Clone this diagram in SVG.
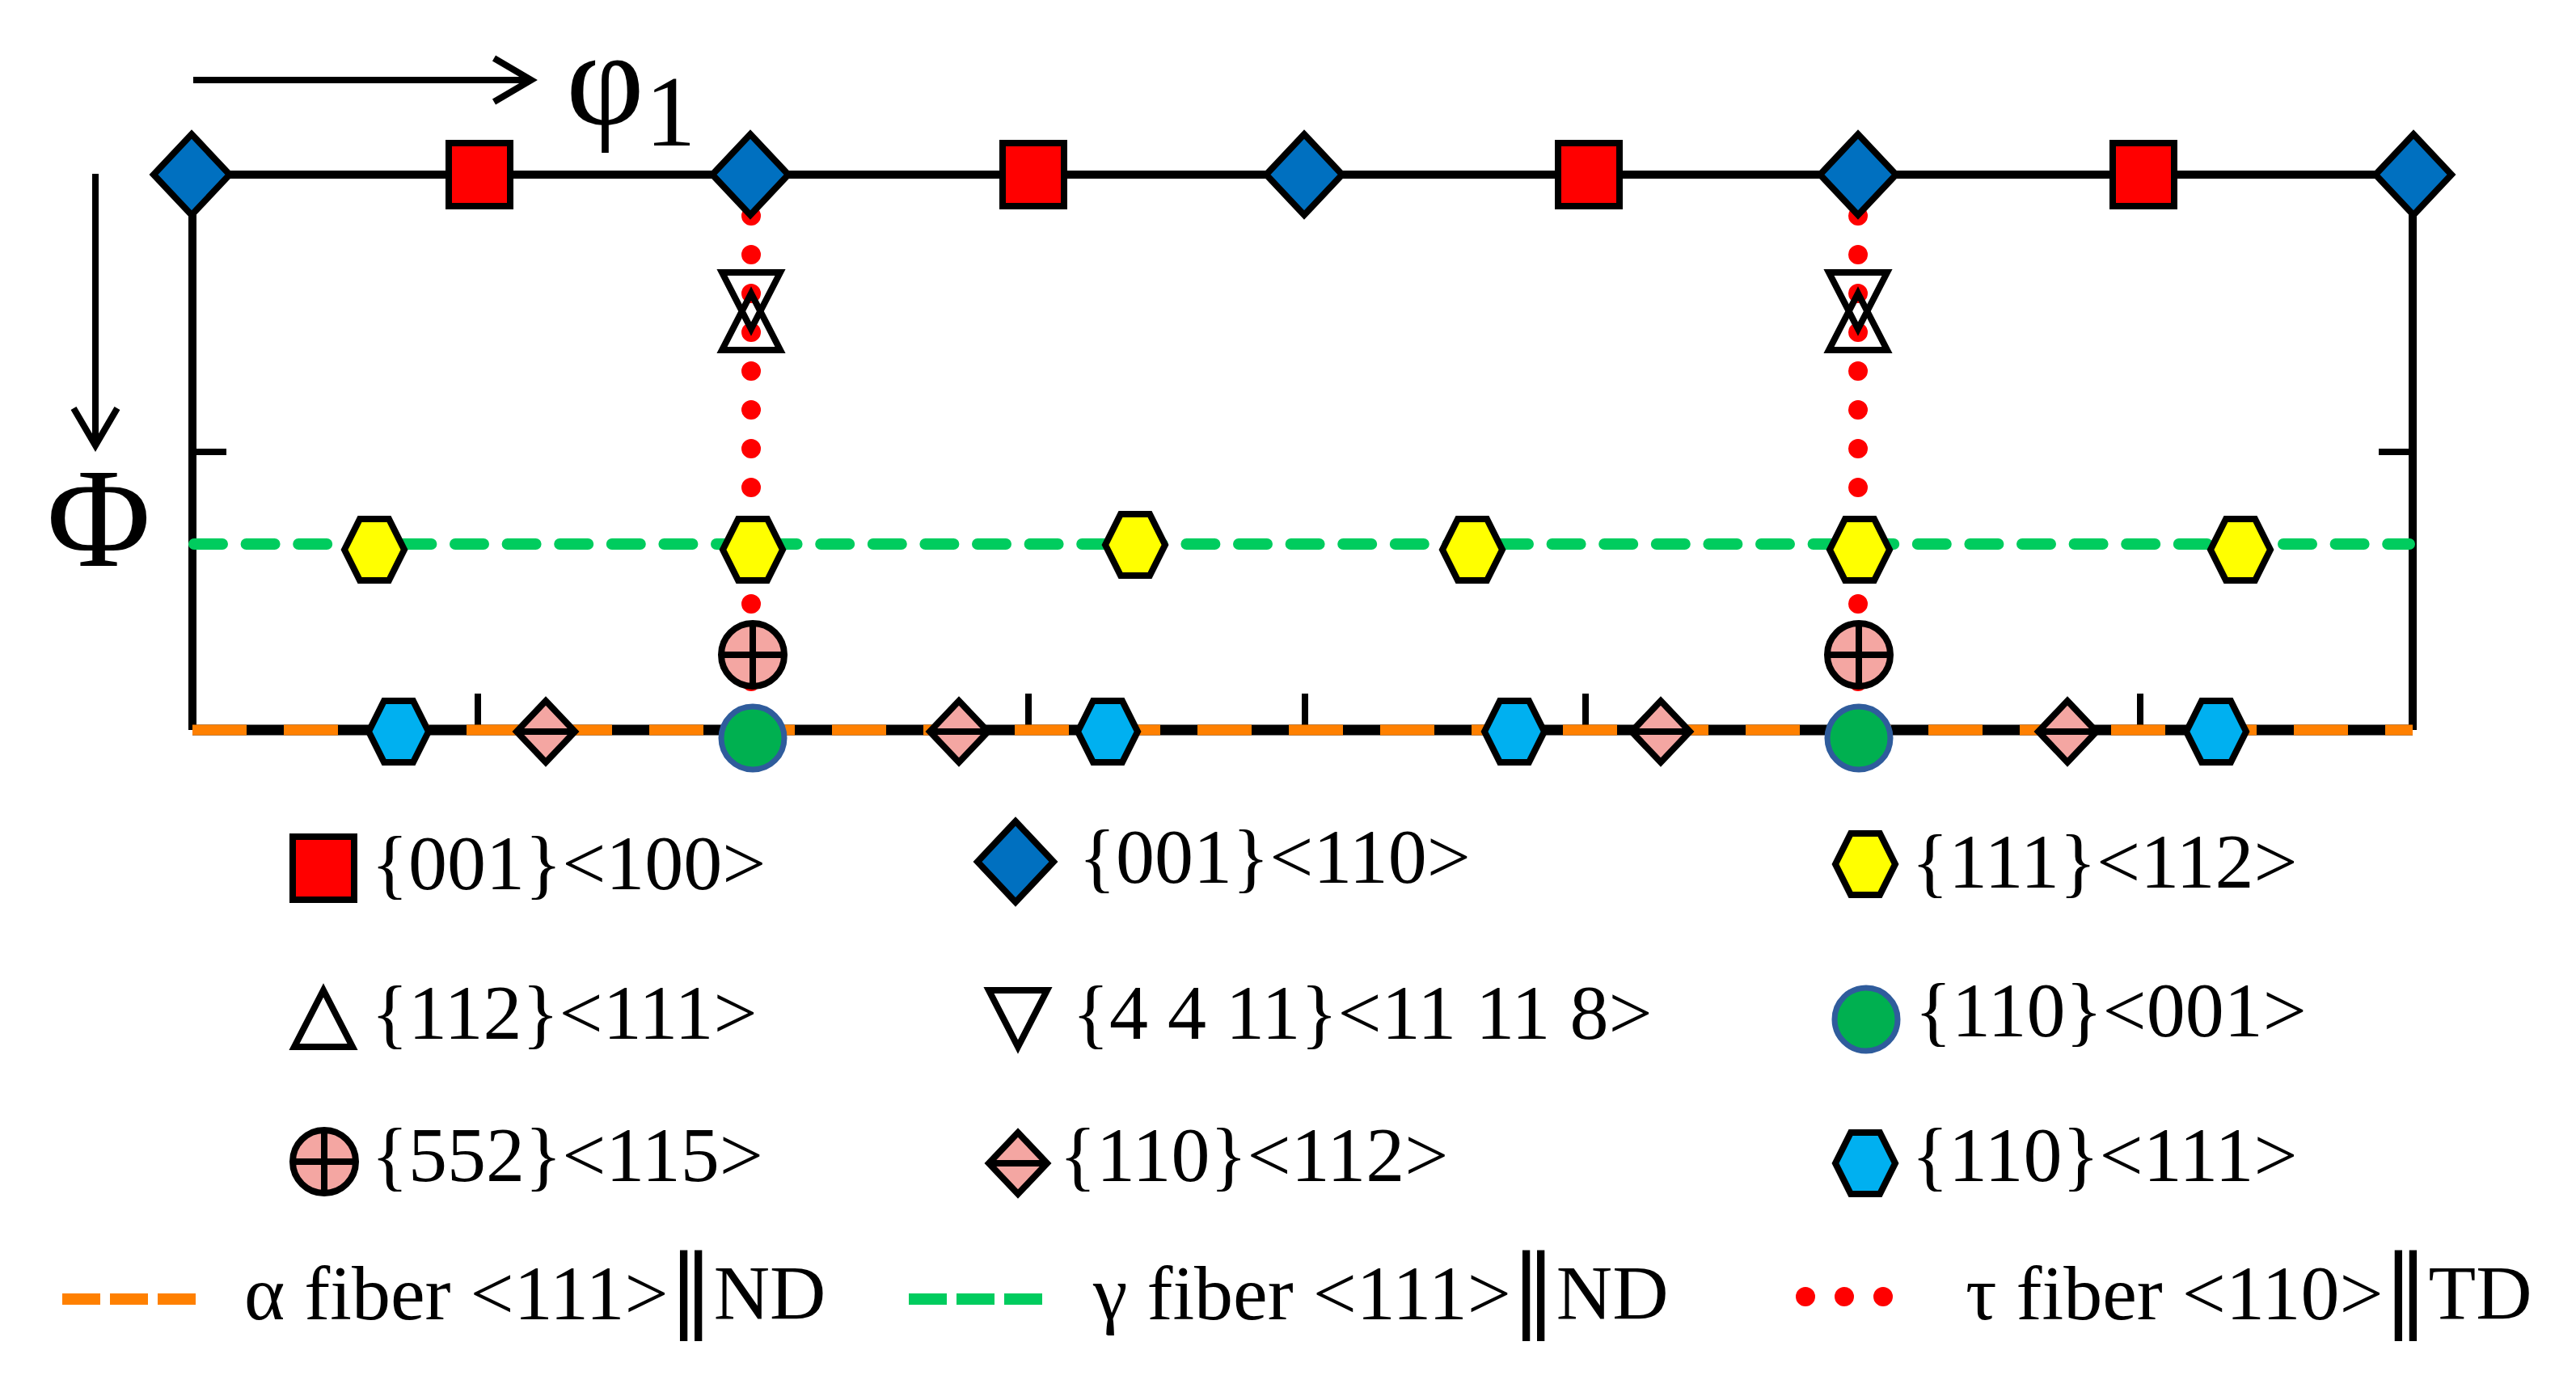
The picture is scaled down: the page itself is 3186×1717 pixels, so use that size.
<svg xmlns="http://www.w3.org/2000/svg" width="3186" height="1717" viewBox="0 0 3186 1717">
<defs>
<style>
.t{font-family:"Liberation Serif","Times New Roman",serif;font-size:96px;fill:#000}
.bar{font-family:"DejaVu Sans",sans-serif;font-size:112px}
.ax{stroke:#000;stroke-width:10;fill:none;stroke-linejoin:miter}
.base{stroke:#000;stroke-width:13;fill:none}
.tick{stroke:#000;stroke-width:8;fill:none}
.arrow{stroke:#000;stroke-width:8;fill:none;marker-end:url(#arr)}
.mk{stroke:#000;stroke-width:8;stroke-linejoin:miter}
.blue{fill:#0070C0}
.red{fill:#FF0000}
.yel{fill:#FFFF00}
.cyan{fill:#00B0F0}
.pink{fill:#F4A6A2}
.open{fill:none}
.grn{fill:#00B050;stroke:#2F5C9C;stroke-width:7}
.alpha{stroke:#FF8000;stroke-width:13;fill:none;stroke-dasharray:67 46}
.gamma{stroke:#00CC5E;stroke-width:14;fill:none;stroke-linecap:round;stroke-dasharray:35 29.6}
.tau{stroke:#FF0000;stroke-width:24;fill:none;stroke-linecap:round;stroke-dasharray:0 48}
.lga{stroke:#FF8000;stroke-width:14;fill:none;stroke-dasharray:47 12}
.lgg{stroke:#00CC5E;stroke-width:14;fill:none;stroke-dasharray:47 12}
.lgt{stroke:#FF0000;stroke-width:24;fill:none;stroke-linecap:round;stroke-dasharray:0 48}
</style>
<marker id="arr" markerUnits="userSpaceOnUse" markerWidth="60" markerHeight="70" viewBox="-52 -35 60 70" refX="0" refY="0" orient="auto" overflow="visible">
<path d="M-46,-27 L0,0 L-46,27" fill="none" stroke="#000" stroke-width="8"/>
</marker>
<polygon id="dia" points="0,-50 47,0 0,50 -47,0"/>
<rect id="sq" x="-38" y="-39" width="76" height="78"/>
<polygon id="hex" points="-37,0 -18,-38 18,-38 37,0 18,38 -18,38"/>
<polygon id="tup" points="0,-35 36,35 -36,35"/>
<polygon id="tdn" points="0,35 36,-35 -36,-35"/>
<g id="cc"><circle r="39"/><path d="M-39,0H39M0,-39V39" fill="none"/></g>
<g id="pd"><polygon points="0,-38 36,0 0,38 -36,0"/><path d="M-36,0H36" fill="none"/></g>
<circle id="gc" r="39"/>
</defs>
<rect width="3186" height="1717" fill="#fff"/>

<g id="connectors">
<path class="ax" d="M238,903 V216 H2984 V903"/>
<path class="base" d="M238,903 H2984"/>
<path class="tick" d="M238,559 H280 M2984,559 H2942 M591,903 V858 M1272,903 V858 M1614,903 V858 M1961,903 V858 M2647,903 V858"/>
<path class="alpha" d="M238,903 H2984"/>
<path class="gamma" d="M240,673 H2980"/>
<path class="tau" d="M929,267 V891"/>
<path class="tau" d="M2298,267 V891"/>
<path class="arrow" d="M239,99 H657"/>
<path class="arrow" d="M118,215 V551"/>
</g>

<g id="axis-labels">
<text class="t" x="700" y="153" style="font-size:168px">φ</text>
<text class="t" x="798" y="180" style="font-size:125px">1</text>
<text class="t" x="122" y="700" text-anchor="middle" style="font-size:176px">Φ</text>
</g>

<g id="top-nodes">
<g id="d001-110-a"><use href="#dia" class="mk blue" x="237" y="216"/></g>
<g id="d001-100-a"><use href="#sq" class="mk red" x="593" y="216"/></g>
<g id="d001-110-b"><use href="#dia" class="mk blue" x="928" y="216"/></g>
<g id="d001-100-b"><use href="#sq" class="mk red" x="1278" y="216"/></g>
<g id="d001-110-c"><use href="#dia" class="mk blue" x="1613" y="216"/></g>
<g id="d001-100-c"><use href="#sq" class="mk red" x="1965" y="216"/></g>
<g id="d001-110-d"><use href="#dia" class="mk blue" x="2298" y="216"/></g>
<g id="d001-100-d"><use href="#sq" class="mk red" x="2651" y="216"/></g>
<g id="d001-110-e"><use href="#dia" class="mk blue" x="2985" y="216"/></g>
</g>

<g id="tau-nodes">
<g id="t4411-a"><use href="#tdn" class="mk open" x="929" y="372"/></g>
<g id="t112-a"><use href="#tup" class="mk open" x="929" y="398"/></g>
<g id="t4411-b"><use href="#tdn" class="mk open" x="2298" y="372"/></g>
<g id="t112-b"><use href="#tup" class="mk open" x="2298" y="398"/></g>
<g id="t552-a"><use href="#cc" class="mk pink" x="931" y="810"/></g>
<g id="t552-b"><use href="#cc" class="mk pink" x="2299" y="810"/></g>
</g>

<g id="gamma-nodes">
<g id="g111-a"><use href="#hex" class="mk yel" x="463" y="680"/></g>
<g id="g111-b"><use href="#hex" class="mk yel" x="931" y="680"/></g>
<g id="g111-c"><use href="#hex" class="mk yel" x="1404" y="674"/></g>
<g id="g111-d"><use href="#hex" class="mk yel" x="1821" y="680"/></g>
<g id="g111-e"><use href="#hex" class="mk yel" x="2300" y="680"/></g>
<g id="g111-f"><use href="#hex" class="mk yel" x="2771" y="680"/></g>
</g>

<g id="alpha-nodes">
<g id="a110-111-a"><use href="#hex" class="mk cyan" x="493" y="905"/></g>
<g id="a110-112-a"><use href="#pd" class="mk pink" x="675" y="905"/></g>
<g id="a110-001-a"><use href="#gc" class="grn" x="931" y="913"/></g>
<g id="a110-112-b"><use href="#pd" class="mk pink" x="1186" y="905"/></g>
<g id="a110-111-b"><use href="#hex" class="mk cyan" x="1370" y="905"/></g>
<g id="a110-111-c"><use href="#hex" class="mk cyan" x="1873" y="905"/></g>
<g id="a110-112-c"><use href="#pd" class="mk pink" x="2054" y="905"/></g>
<g id="a110-001-b"><use href="#gc" class="grn" x="2299" y="913"/></g>
<g id="a110-112-d"><use href="#pd" class="mk pink" x="2557" y="905"/></g>
<g id="a110-111-d"><use href="#hex" class="mk cyan" x="2741" y="905"/></g>
</g>

<g id="legend">
<g id="lg-001-100"><use href="#sq" class="mk red" x="400" y="1074"/><text class="t" x="459" y="1100">{001}&lt;100&gt;</text></g>
<g id="lg-001-110"><use href="#dia" class="mk blue" x="1256" y="1066"/><text class="t" x="1334" y="1092">{001}&lt;110&gt;</text></g>
<g id="lg-111-112"><use href="#hex" class="mk yel" x="2307" y="1069"/><text class="t" x="2364" y="1098">{111}&lt;112&gt;</text></g>
<g id="lg-112-111"><use href="#tup" class="mk open" x="400" y="1260"/><text class="t" x="459" y="1285">{112}&lt;111&gt;</text></g>
<g id="lg-4411"><use href="#tdn" class="mk open" x="1259" y="1260"/><text class="t" x="1326" y="1285">{4 4 11}&lt;11 11 8&gt;</text></g>
<g id="lg-110-001"><use href="#gc" class="grn" x="2308" y="1261"/><text class="t" x="2368" y="1282">{110}&lt;001&gt;</text></g>
<g id="lg-552-115"><use href="#cc" class="mk pink" x="401" y="1437"/><text class="t" x="459" y="1461">{552}&lt;115&gt;</text></g>
<g id="lg-110-112"><use href="#pd" class="mk pink" x="1259" y="1439"/><text class="t" x="1310" y="1461">{110}&lt;112&gt;</text></g>
<g id="lg-110-111"><use href="#hex" class="mk cyan" x="2307" y="1439"/><text class="t" x="2364" y="1461">{110}&lt;111&gt;</text></g>
<g id="lg-alpha"><path class="lga" d="M77,1607 H242"/><text class="t" x="302" y="1632">α fiber &lt;111&gt;<tspan class="bar">‖</tspan>ND</text></g>
<g id="lg-gamma"><path class="lgg" d="M1124,1607 H1295"/><text class="t" x="1352" y="1632">γ fiber &lt;111&gt;<tspan class="bar">‖</tspan>ND</text></g>
<g id="lg-tau"><path class="lgt" d="M2233,1604 H2377"/><text class="t" x="2431" y="1632">τ fiber &lt;110&gt;<tspan class="bar">‖</tspan>TD</text></g>
</g>
</svg>
